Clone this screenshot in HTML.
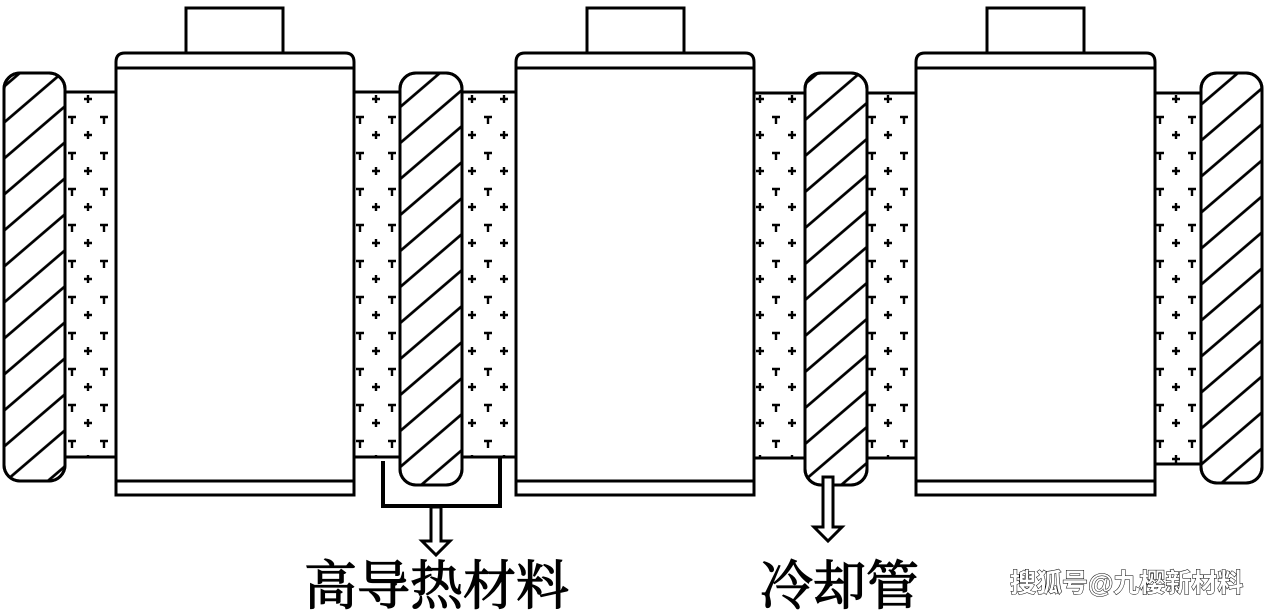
<!DOCTYPE html>
<html><head><meta charset="utf-8"><style>
html,body{margin:0;padding:0;background:#fff;width:1266px;height:612px;overflow:hidden}
svg{display:block}
.t{font-family:"Liberation Serif","Noto Serif CJK SC",serif;font-size:53px;fill:#000;stroke:#000;stroke-width:1.2px}
.w{font-family:"Liberation Sans","Noto Sans CJK SC",sans-serif;font-size:26px;font-weight:bold;fill:#fff;stroke:#000;stroke-width:1px;paint-order:stroke}
</style></head><body>
<svg width="1266" height="612" viewBox="0 0 1266 612">
<defs>
<pattern id="h" width="10" height="36" patternUnits="userSpaceOnUse" patternTransform="skewY(-40.6)">
<line x1="0" y1="18" x2="10" y2="18" stroke="#000" stroke-width="3.6"/>
</pattern>
<pattern id="d" width="32" height="36" patternUnits="userSpaceOnUse">
<g stroke="#000" stroke-width="2.4">
<path d="M4 9h8M8 9v7"/><path d="M20 27h8M24 23v8"/>
</g>
</pattern>
</defs>
<g stroke="#000" stroke-width="3" fill="#fff">
<rect x="62" y="92" width="56" height="365" fill="url(#d)"/>
<rect x="352" y="92" width="166" height="365" fill="url(#d)"/>
<rect x="752" y="93" width="166" height="365" fill="url(#d)"/>
<rect x="1153" y="93" width="52" height="371" fill="url(#d)"/>
<g>
<rect x="186" y="8" width="97" height="47"/>
<path d="M116 495V62q0-9 9-9h220q9 0 9 9V495Z"/>
<line x1="116" y1="68" x2="354" y2="68"/><line x1="116" y1="481" x2="354" y2="481"/>
</g>
<g>
<rect x="587" y="8" width="97" height="47"/>
<path d="M516 495V62q0-9 9-9h220q9 0 9 9V495Z"/>
<line x1="516" y1="68" x2="754" y2="68"/><line x1="516" y1="481" x2="754" y2="481"/>
</g>
<g>
<rect x="987" y="8" width="97" height="47"/>
<path d="M916 495V62q0-9 9-9h221q9 0 9 9V495Z"/>
<line x1="916" y1="68" x2="1155" y2="68"/><line x1="916" y1="481" x2="1155" y2="481"/>
</g>
<rect x="4" y="73" width="61" height="408" rx="16" fill="#fff"/>
<rect x="4" y="73" width="61" height="408" rx="16" fill="url(#h)"/>
<rect x="400" y="73" width="62" height="412" rx="16" fill="#fff"/>
<rect x="400" y="73" width="62" height="412" rx="16" fill="url(#h)"/>
<rect x="805" y="73" width="62" height="412" rx="16" fill="#fff"/>
<rect x="805" y="73" width="62" height="412" rx="16" fill="url(#h)"/>
<rect x="1201" y="73" width="61" height="410" rx="16" fill="#fff"/>
<rect x="1201" y="73" width="61" height="410" rx="16" fill="url(#h)"/>
</g>
<path d="M383 461V506H500V457" fill="none" stroke="#000" stroke-width="4"/>
<path d="M431 507h10v34h9l-14 14l-14-14h9Z" fill="#fff" stroke="#000" stroke-width="3"/>
<path d="M823 477h10v50h9l-14 14l-14-14h9Z" fill="#fff" stroke="#000" stroke-width="3"/>
<text x="304" y="604" class="t">高导热材料</text>
<text x="760" y="604" class="t">冷却管</text>
<text x="1010" y="592" class="w">搜狐号@九樱新材料</text>
</svg>
</body></html>
